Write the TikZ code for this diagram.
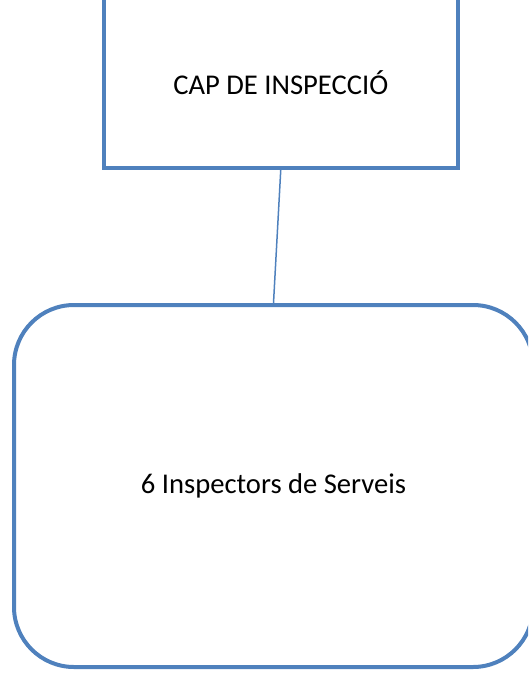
\documentclass[tikz,border=0pt]{standalone}
\usepackage{fontspec}
\setmainfont{Carlito}
\definecolor{officeblue}{HTML}{4F81BD}
\begin{document}
\begin{tikzpicture}[x=1pt,y=-1pt,
  boxstyle/.style={draw=officeblue, line width=4pt, fill=none, inner sep=0pt,
    font=\fontsize{28.6}{34}\selectfont, text=black},
  linkstyle/.style={draw=officeblue, line width=1.5pt}]
\useasboundingbox (0,0) rectangle (528,677);
\clip (0,0) rectangle (528,677);
\node[boxstyle, rectangle, minimum width=354.5pt, minimum height=170pt] (cap) at (280.75,83) {CAP DE INSPECCIÓ};
\node[boxstyle, rectangle, rounded corners=60pt, minimum width=519pt, minimum height=362pt] (insp) at (273.5,486) {6 Inspectors de Serveis};
\draw[linkstyle] (cap.south) -- (insp.north);
\end{tikzpicture}
\end{document}
